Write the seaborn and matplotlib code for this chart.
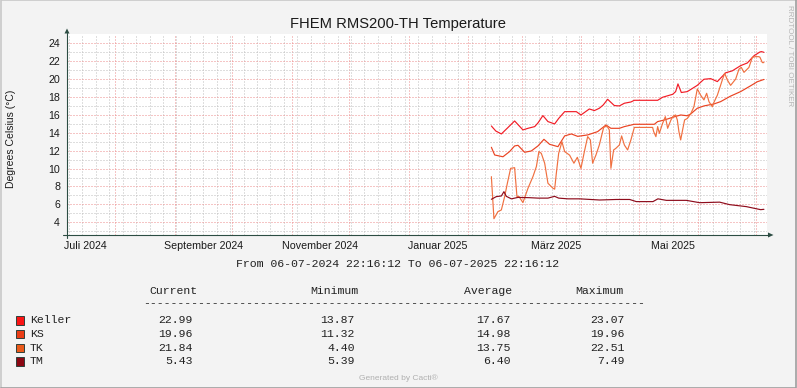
import matplotlib
matplotlib.use("Agg")
import matplotlib.pyplot as plt
import matplotlib.dates as mdates
from matplotlib.ticker import NullFormatter
from matplotlib.patches import Polygon, Rectangle
from matplotlib.lines import Line2D
import pandas as pd
import seaborn as sns

# FHEM RMS200-TH temperature, one year window (rrdtool / cacti style graph)

keller_dates = ["2025-02-13 05:00", "2025-02-15 12:00", "2025-02-18 10:00", "2025-02-21 22:00",
                "2025-02-25 08:00", "2025-03-01 16:00", "2025-03-04 07:00", "2025-03-07 19:00",
                "2025-03-09 12:00", "2025-03-12 02:00", "2025-03-14 17:00", "2025-03-18 05:00",
                "2025-03-20 07:00", "2025-03-23 10:00", "2025-03-29 12:00", "2025-03-31 22:00",
                "2025-04-05 07:00", "2025-04-07 22:00", "2025-04-10 12:00", "2025-04-12 12:00",
                "2025-04-14 20:00", "2025-04-18 08:00", "2025-04-20 23:00", "2025-04-23 13:00",
                "2025-04-26 23:00", "2025-04-28 18:00", "2025-05-10 22:00", "2025-05-13 12:00",
                "2025-05-18 18:00", "2025-05-20 07:00", "2025-05-21 12:00", "2025-05-23 06:00",
                "2025-05-26 09:00", "2025-05-31 14:00", "2025-06-04 01:00", "2025-06-07 13:00",
                "2025-06-11 01:00", "2025-06-15 09:00", "2025-06-18 20:00", "2025-06-23 04:00",
                "2025-06-26 16:00", "2025-06-30 03:00", "2025-07-03 06:00", "2025-07-04 00:00",
                "2025-07-05 08:00"]
keller_vals = [14.76, 14.2, 13.87, 14.6, 15.32, 14.32, 14.5, 14.69, 15.1, 15.92, 15.25, 14.99,
               15.6, 16.36, 16.36, 15.99, 16.66, 16.48, 16.74, 17.1, 17.74, 17.04, 17.0, 17.3,
               17.44, 17.63, 17.63, 17.97, 18.3, 18.6, 19.46, 18.5, 18.6, 19.3, 19.98, 20.05,
               19.72, 20.7, 20.92, 21.5, 21.8, 22.6, 23.03, 23.07, 22.99]

ks_dates = ["2025-02-13 05:00", "2025-02-14 22:00", "2025-02-19 06:00", "2025-02-22 17:00",
            "2025-02-25 08:00", "2025-02-27 02:00", "2025-03-02 13:00", "2025-03-06 01:00",
            "2025-03-09 12:00", "2025-03-12 15:00", "2025-03-15 14:00", "2025-03-19 22:00",
            "2025-03-23 10:00", "2025-03-26 22:00", "2025-03-30 05:00", "2025-04-04 10:00",
            "2025-04-09 15:00", "2025-04-13 23:00", "2025-04-16 13:00", "2025-04-20 23:00",
            "2025-04-23 13:00", "2025-04-28 18:00", "2025-05-09 04:00", "2025-05-10 22:00",
            "2025-05-14 10:00", "2025-05-18 18:00", "2025-05-22 22:00", "2025-05-26 09:00",
            "2025-05-28 03:00", "2025-05-31 14:00", "2025-06-04 01:00", "2025-06-09 06:00",
            "2025-06-12 18:00", "2025-06-17 23:00", "2025-06-23 04:00", "2025-06-28 09:00",
            "2025-07-01 21:00", "2025-07-05 08:00"]
ks_vals = [12.38, 11.52, 11.32, 11.9, 12.53, 12.6, 11.82, 11.97, 12.53, 13.27, 12.71, 12.45,
           13.65, 13.87, 13.6, 13.76, 14.13, 14.87, 14.5, 14.5, 14.69, 14.95, 14.95, 15.25,
           15.43, 15.73, 15.99, 15.9, 16.1, 16.74, 17.0, 17.22, 17.48, 18.1, 18.6, 19.25,
           19.7, 19.96]

tk_dates = ["2025-02-13 05:00", "2025-02-14 13:00", "2025-02-16 15:00", "2025-02-18 10:00",
            "2025-02-20 03:00", "2025-02-21 13:00", "2025-02-23 06:00", "2025-02-25 08:00",
            "2025-02-26 13:00", "2025-02-27 13:00", "2025-03-01 16:00", "2025-03-04 07:00",
            "2025-03-06 21:00", "2025-03-08 16:00", "2025-03-10 00:00", "2025-03-11 06:00",
            "2025-03-13 00:00", "2025-03-14 17:00", "2025-03-17 08:00", "2025-03-18 05:00",
            "2025-03-19 02:00", "2025-03-20 07:00", "2025-03-22 00:00", "2025-03-23 10:00",
            "2025-03-26 00:00", "2025-03-28 06:00", "2025-03-30 01:00", "2025-03-31 22:00",
            "2025-04-02 17:00", "2025-04-04 10:00", "2025-04-05 20:00", "2025-04-07 00:00",
            "2025-04-08 18:00", "2025-04-10 12:00", "2025-04-12 18:00", "2025-04-14 11:00",
            "2025-04-15 17:00", "2025-04-16 13:00", "2025-04-17 23:00", "2025-04-19 04:00",
            "2025-04-20 23:00", "2025-04-22 03:00", "2025-04-23 13:00", "2025-04-25 06:00",
            "2025-04-26 23:00", "2025-04-28 18:00", "2025-05-08 07:00", "2025-05-08 20:00",
            "2025-05-10 00:00", "2025-05-10 22:00", "2025-05-11 19:00", "2025-05-13 12:00",
            "2025-05-14 22:00", "2025-05-16 03:00", "2025-05-17 20:00", "2025-05-19 02:00",
            "2025-05-20 07:00", "2025-05-21 04:00", "2025-05-22 00:00", "2025-05-22 22:00",
            "2025-05-24 02:00", "2025-05-24 23:00", "2025-05-26 09:00", "2025-05-28 03:00",
            "2025-05-29 20:00", "2025-05-31 14:00", "2025-06-02 08:00", "2025-06-04 01:00",
            "2025-06-05 11:00", "2025-06-06 16:00", "2025-06-08 10:00", "2025-06-09 06:00",
            "2025-06-11 01:00", "2025-06-13 15:00", "2025-06-14 20:00", "2025-06-16 06:00",
            "2025-06-17 23:00", "2025-06-20 14:00", "2025-06-22 07:00", "2025-06-23 13:00",
            "2025-06-24 22:00", "2025-06-27 12:00", "2025-06-29 07:00", "2025-07-01 00:00",
            "2025-07-02 17:00", "2025-07-03 06:00", "2025-07-04 12:00", "2025-07-05 08:00"]
tk_vals = [9.1, 4.40, 5.19, 5.38, 6.87, 8.36, 10.03, 10.1, 6.87, 6.9, 6.2, 7.8,
           9.1, 10.22, 11.9, 11.7, 10.6, 8.36, 7.8, 7.7, 9.48, 11.7, 13.0, 11.9,
           11.5, 10.6, 11.26, 10.03, 11.9, 13.57, 13.2, 10.6, 11.52, 12.64, 14.6, 14.76,
           14.32, 10.03, 12.08, 12.27, 12.64, 13.65, 12.64, 12.08, 13.2, 14.6, 14.6, 14.13,
           13.57, 14.69, 13.94, 15.06, 15.8, 14.5, 15.43, 15.88, 15.99, 15.43, 14.13, 13.2,
           14.5, 15.43, 15.6, 16.1, 16.92, 18.9, 18.2, 17.67, 18.41, 17.48, 16.9, 17.4,
           18.2, 19.9, 20.65, 19.9, 19.3, 20.0, 21.1, 21.3, 20.75, 21.3, 22.44, 22.51,
           22.5, 22.44, 21.84, 21.84]

tm_dates = ["2025-02-13 05:00", "2025-02-15 19:00", "2025-02-18 10:00", "2025-02-19 18:00",
            "2025-02-21 00:00", "2025-02-23 15:00", "2025-02-27 02:00", "2025-03-05 00:00",
            "2025-03-09 12:00", "2025-03-14 17:00", "2025-03-18 05:00", "2025-03-20 07:00",
            "2025-03-25 03:00", "2025-03-31 06:00", "2025-04-10 16:00", "2025-04-19 09:00",
            "2025-04-26 07:00", "2025-04-29 19:00", "2025-05-08 11:00", "2025-05-11 01:00",
            "2025-05-15 11:00", "2025-05-25 21:00", "2025-06-01 19:00", "2025-06-12 06:00",
            "2025-06-17 11:00", "2025-06-26 04:00", "2025-07-03 15:00", "2025-07-05 08:00"]
tm_vals = [6.57, 6.87, 6.94, 7.42, 6.9, 6.62, 6.78, 6.75, 6.7, 6.7, 6.9, 6.7,
           6.62, 6.62, 6.49, 6.55, 6.55, 6.31, 6.31, 6.62, 6.45, 6.45, 6.19, 6.25,
           5.97, 5.75, 5.41, 5.45]

series_names = ["Keller", "KS", "TK", "TM"]
line_colors = ["#F21C26", "#EA4322", "#F07040", "#8E0C1C"]
box_colors = ["#FA1414", "#EA3D16", "#EA5A1A", "#8B0712"]

cur_vals = [22.99, 19.96, 21.84, 5.43]
min_vals = [13.87, 11.32, 4.40, 5.39]
avg_vals = [17.67, 14.98, 13.75, 6.40]
max_vals = [23.07, 19.96, 22.51, 7.49]

x_label_dates = ["2024-07-16 11:00", "2024-09-16 00:00", "2024-11-16 00:00",
                 "2025-01-16 00:00", "2025-03-19 00:00", "2025-05-19 00:00"]
x_label_text = ["Juli 2024", "September 2024", "November 2024",
                "Januar 2025", "März 2025", "Mai 2025"]

frames = []
for name, d, v in zip(series_names,
                      [keller_dates, ks_dates, tk_dates, tm_dates],
                      [keller_vals, ks_vals, tk_vals, tm_vals]):
    frames.append(pd.DataFrame({"time": pd.to_datetime(d), "temp": v, "series": name}))
df = pd.concat(frames, ignore_index=True)

sns.set_style("white")
plt.rcParams['font.family'] = ['Liberation Sans', 'DejaVu Sans']
MONO = ['Liberation Mono', 'DejaVu Sans Mono']

W, H = 797, 388
BG = "#F3F3F3"
AXIS = "#2C4D43"
fig = plt.figure(figsize=(W / 100, H / 100), dpi=100, facecolor=BG)


def fx(x):
    return x / W


def fy(y):
    return 1 - y / H


ax = fig.add_axes([fx(67), fy(235), 700 / W, 200.5 / H])
ax.set_facecolor("white")

sns.lineplot(data=df, x="time", y="temp", hue="series", hue_order=series_names,
             palette=dict(zip(series_names, line_colors)), estimator=None,
             legend=False, linewidth=0.85, ax=ax)

ax.set_xlim(pd.Timestamp("2024-07-06 22:16:12"), pd.Timestamp("2025-07-06 22:16:12"))
ax.set_ylim(2.58, 24.98)
ax.set_xlabel("")
ax.set_ylabel("")

ax.xaxis.set_major_locator(mdates.MonthLocator())
ax.xaxis.set_minor_locator(mdates.WeekdayLocator(byweekday=mdates.MO))
ax.xaxis.set_major_formatter(NullFormatter())
ax.set_yticks(range(4, 25, 2))
ax.set_yticks(range(3, 25, 2), minor=True)

# rrdtool style dotted grid
ax.set_axisbelow(True)
ax.grid(which="minor", color="#BEBEBE", linestyle=(0, (1, 2)), linewidth=0.72)
ax.grid(which="major", color="#EC8C8C", linestyle=(0, (1, 2)), linewidth=0.72)
for s in ax.spines.values():
    s.set_visible(False)

ax.tick_params(axis="both", which="major", direction="out", length=2, width=0.7,
               color=AXIS, labelsize=7.7, labelcolor="#1a1a1a")
ax.tick_params(axis="both", which="minor", direction="out", length=1.2, width=0.7, color=AXIS)
ax.tick_params(axis="y", pad=3)

for d, t in zip(x_label_dates, x_label_text):
    ax.text(pd.Timestamp(d), -0.07, t, transform=ax.get_xaxis_transform(),
            ha="center", va="baseline", fontsize=7.7, color="#1a1a1a")

# axes with arrows
fig.add_artist(Line2D([fx(67), fx(67)], [fy(238), fy(33)], color=AXIS, lw=0.8))
fig.add_artist(Line2D([fx(63), fx(769)], [fy(235), fy(235)], color=AXIS, lw=0.8))
fig.add_artist(Polygon([(fx(64.5), fy(33.5)), (fx(69.5), fy(33.5)), (fx(67), fy(28.5))],
                       closed=True, color=AXIS, lw=0))
fig.add_artist(Polygon([(fx(768), fy(232.5)), (fx(768), fy(237.5)), (fx(773.5), fy(235))],
                       closed=True, color=AXIS, lw=0))

fig.text(fx(398), fy(28.3), "FHEM RMS200-TH Temperature", ha="center", va="baseline",
         fontsize=10.6, color="#1a1a1a")
fig.text(fx(11), fy(139), "Degrees Celsius (°C)", rotation=90, ha="center", va="center",
         fontsize=7.5, color="#1a1a1a")
fig.text(fx(789), fy(56), "RRDTOOL / TOBI OETIKER", rotation=270, ha="center", va="center",
         fontsize=5.8, color="#B5B5B5")
fig.text(fx(398.5), fy(380), "Generated by Cacti®", ha="center", va="baseline",
         fontsize=6, color="#B0B0B0")

fs = 8.25
fig.text(fx(397.5), fy(267), "From 06-07-2024 22:16:12 To 06-07-2025 22:16:12",
         ha="center", va="baseline", fontsize=fs, family=MONO, color="#222222")

for hx, h in zip([149, 310, 464, 575.7], ["Current", "Minimum", "Average", "Maximum"]):
    fig.text(fx(hx), fy(294.3), h, ha="left", va="baseline", fontsize=fs, family=MONO,
             color="#222222")
fig.text(fx(142.7), fy(306.5), "-" * 73, ha="left", va="baseline", fontsize=fs,
         family=MONO, color="#222222")

row_base = [323.3, 336.8, 350.6, 364.3]
for i, name in enumerate(series_names):
    yb = row_base[i]
    fig.add_artist(Rectangle((fx(15.5), fy(yb + 1.5)), 8 / W, 8.5 / H,
                             facecolor=box_colors[i], edgecolor="#2F3F3A", lw=0.7))
    fig.text(fx(30), fy(yb), name, ha="left", va="baseline", fontsize=fs, family=MONO,
             color="#222222")
    for rx, vals in zip([192.7, 355, 511, 625], [cur_vals, min_vals, avg_vals, max_vals]):
        fig.text(fx(rx), fy(yb), f"{vals[i]:.2f}", ha="right", va="baseline", fontsize=fs,
                 family=MONO, color="#222222")

# image border
fig.add_artist(Line2D([0.001, 0.001, 0.999], [0.001, 0.999, 0.999], color="#C8C8C8", lw=1.2))
fig.add_artist(Line2D([0.001, 0.999, 0.999], [0.001, 0.001, 0.999], color="#9E9E9E", lw=1.2))

fig.savefig("out.png", dpi=100, facecolor=BG)
